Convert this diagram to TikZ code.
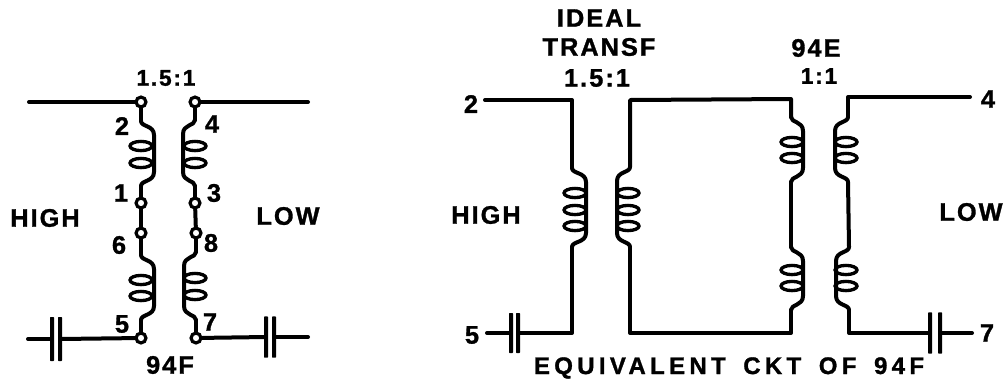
\documentclass[tikz,border=0pt]{standalone}
\usepackage{fontspec}
\setmainfont{Liberation Sans}[LetterSpace=8,BoldFeatures={FakeBold=1.2}]
\newfontface\widefont{Liberation Sans Bold}[LetterSpace=18,WordSpace=1.6,FakeBold=1.2]
\tikzset{
    wire/.style={
           line width=3pt,
           line cap=round,
           line join=round,
           },
    turn/.style={
           line width=2.5pt,
           },
    term/.style={
           circle,
           draw=black, line width=2.4pt,
           fill=white,
           minimum size=7.4pt,
           inner sep=0pt,
           },
    plate/.style={
           fill=black,
           minimum width=3pt,
           inner sep=0pt,
           rounded corners=0.5pt,
           },
    lbl/.style={
           inner sep=0pt,
           font=\fontsize{19}{19}\selectfont\bfseries,
           },
    lblsmall/.style={
           inner sep=0pt,
           font=\fontsize{17}{17}\selectfont\bfseries,
           },
    lblwide/.style={
           inner sep=0pt,
           font=\fontsize{18}{18}\widefont,
           },
}
% name, wire x, top y, bottom y, side of the bulge, x of the turns, y of the turns
\newcommand{\coil}[7]{
	\coordinate (#1top) at (#2,#3);
	\coordinate (#1bot) at (#2,#4);
	\draw[wire] (#1top) .. controls (#2,#3+6) and (#2+#5,#3+4) .. (#2+#5,#3+14)
		-- (#2+#5,#4-14) .. controls (#2+#5,#4-4) and (#2,#4-6) .. (#1bot);
	\foreach \yturn in {#7}
		\draw[turn] (#6,\yturn) ellipse (11 and 4.6);
}
\begin{document}
\begin{tikzpicture}[x=0.75pt, y=-0.75pt]
	\useasboundingbox[fill=white] (0,0) rectangle (1005,390);

	% transformer 94F
	\node[term] (t2) at (141,102) {};
	\node[term] (t1) at (141,203) {};
	\node[term] (t6) at (141,233) {};
	\node[term] (t5) at (141,338) {};
	\node[term] (t4) at (195,102) {};
	\node[term] (t3) at (195,203) {};
	\node[term] (t8) at (196,233) {};
	\node[term] (t7) at (196,338) {};

	\coil{cha}{141}{121}{186}{13}{141}{146,163}
	\coil{chb}{141}{255}{320}{13}{141}{280,296}
	\coil{cla}{195}{120}{186}{-12}{195}{146,163}
	\coil{clb}{196}{252}{320}{-12}{195}{278,295}

	\coordinate (hin) at (29,102);
	\coordinate (lin) at (308,102);
	\coordinate (hout) at (28,339);
	\coordinate (lout) at (308,337);

	\node[plate, minimum height=33pt] (pa) at (52,339) {};
	\node[plate, minimum height=33pt] (pb) at (60,339) {};
	\node[plate, minimum height=31pt] (pc) at (266,337) {};
	\node[plate, minimum height=31pt] (pd) at (274,337) {};

	\draw[wire] (hin) -- (t2);
	\draw[wire] (t2) -- (chatop);
	\draw[wire] (chabot) -- (t1);
	\draw[wire] (t1) -- (t6);
	\draw[wire] (t6) -- (chbtop);
	\draw[wire] (chbbot) -- (t5);
	\draw[wire] (lin) -- (t4);
	\draw[wire] (t4) -- (clatop);
	\draw[wire] (clabot) -- (t3);
	\draw[wire] (t3) -- (t8);
	\draw[wire] (t8) -- (clbtop);
	\draw[wire] (clbbot) -- (t7);
	\draw[wire] (hout) -- (pa);
	\draw[wire] (pb) -- (t5);
	\draw[wire] (t7) -- (pc);
	\draw[wire] (pd) -- (lout);

	\node[lblsmall] (ratioa) at (166,78) {1.5:1};
	\node[lbl] (num2) at (122,126) {2};
	\node[lbl] (num1) at (121,193) {1};
	\node[lbl] (num6) at (119,245) {6};
	\node[lbl] (num5) at (122,324) {5};
	\node[lbl] (num4) at (212,124) {4};
	\node[lbl] (num3) at (214,193) {3};
	\node[lbl] (num8) at (211,243) {8};
	\node[lbl] (num7) at (210,322) {7};
	\node[lbl] (higha) at (45,218) {HIGH};
	\node[lbl] (lowa) at (288,216) {LOW};
	\node[lbl] (typef) at (170,365) {94F};

	% equivalent circuit
	\coil{eha}{572}{168}{247}{14}{575}{193,210,226}
	\coil{ela}{630}{167}{247}{-13}{628}{193,210,226}
	\coil{eea}{791}{117}{182}{12}{792}{142,158}
	\coil{eeb}{791}{247}{310}{12}{792}{270,286}
	\coil{efa}{848}{117}{182}{-13}{846}{142,158}
	\coil{efb}{849}{247}{310}{-13}{846}{270,286}

	\coordinate (ein) at (485,100);
	\coordinate (eout) at (487,333);
	\coordinate (fin) at (970,97);
	\coordinate (fout) at (972,333);
	\coordinate (ca) at (572,100);
	\coordinate (cb) at (572,333);
	\coordinate (cc) at (630,100);
	\coordinate (cd) at (630,333);
	\coordinate (ce) at (791,99);
	\coordinate (cf) at (791,333);
	\coordinate (cg) at (848,97);
	\coordinate (ch) at (849,333);

	\node[plate, minimum height=30pt] (pe) at (511,333) {};
	\node[plate, minimum height=30pt] (pf) at (518,333) {};
	\node[plate, minimum height=31pt] (pg) at (930,333) {};
	\node[plate, minimum height=31pt] (ph) at (940,333) {};

	\draw[wire] (ein) -- (ca) -- (ehatop);
	\draw[wire] (ehabot) -- (cb) -- (pf);
	\draw[wire] (pe) -- (eout);
	\draw[wire] (elabot) -- (cd) -- (cf) -- (eebbot);
	\draw[wire] (elatop) -- (cc) -- (ce) -- (eeatop);
	\draw[wire] (eeabot) -- (eebtop);
	\draw[wire] (fin) -- (cg) -- (efatop);
	\draw[wire] (efabot) -- (efbtop);
	\draw[wire] (efbbot) -- (ch) -- (pg);
	\draw[wire] (ph) -- (fout);

	\node[lbl] (ideal) at (599,18) {IDEAL};
	\node[lbl] (transf) at (599,47) {TRANSF};
	\node[lbl] (ratiob) at (597,78) {1.5:1};
	\node[lbl] (typee) at (816,48) {94E};
	\node[lblsmall] (ratioc) at (819,76) {1:1};
	\node[lbl] (numb2) at (471,104) {2};
	\node[lbl] (numb5) at (472,335) {5};
	\node[lbl] (numb4) at (988,99) {4};
	\node[lbl] (numb7) at (987,333) {7};
	\node[lbl] (highb) at (486,215) {HIGH};
	\node[lbl] (lowb) at (971,212) {LOW};
	\node[lblwide] (caption) at (729,368) {EQUIVALENT CKT OF 94F};
\end{tikzpicture}
\end{document}
